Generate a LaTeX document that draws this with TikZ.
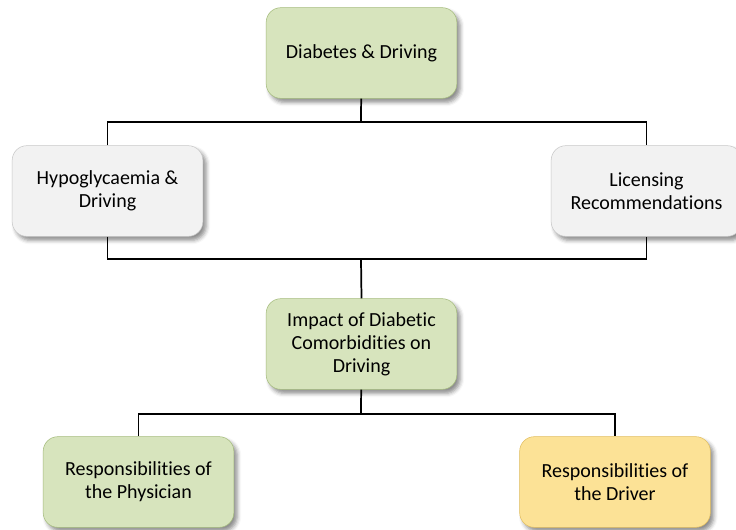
\documentclass[tikz,border=0pt]{standalone}
\usepackage{fontspec}
\setmainfont{Carlito}[Ligatures={NoCommon,NoRequired,NoContextual}]
\usetikzlibrary{shadows.blur}
\definecolor{leafFill}{RGB}{215,228,189}
\definecolor{leafLine}{RGB}{165,188,125}
\definecolor{greyFill}{RGB}{242,242,242}
\definecolor{greyLine}{RGB}{200,200,200}
\definecolor{sunFill}{RGB}{252,226,150}
\definecolor{sunLine}{RGB}{226,190,95}
\tikzset{
    topic/.style={draw, rounded corners=11pt, align=center,
        minimum width=143pt, minimum height=68pt, inner sep=2pt,
        font=\fontsize{15}{17.4}\selectfont,
        blur shadow={shadow xshift=2.5pt, shadow yshift=-3pt,
            shadow blur radius=3pt, shadow opacity=45}},
    green/.style={topic, fill=leafFill, draw=leafLine},
    grey/.style={topic, fill=greyFill, draw=greyLine},
    yellow/.style={topic, fill=sunFill, draw=sunLine},
    bus/.style={line width=1.3pt, black},
}
\begin{document}
\begin{tikzpicture}[x=0.75pt, y=-0.75pt]
    \useasboundingbox (0,0) rectangle (736,529);
    \coordinate (Bus1) at (361,122);
    \coordinate (Bus2) at (361,259);
    \coordinate (Bus3) at (361,414);
    % boxes
    \node[green]  (diab)   at (361.5,53)  {Diabetes \& Driving};
    \node[grey]   (hypo)   at (107.5,191) {Hypoglycaemia \&\\Driving};
    \node[grey]   (lic)    at (646.5,191) {Licensing\\Recommendations};
    \node[green]  (impact) at (361.5,344) {Impact of Diabetic\\Comorbidities on\\Driving};
    \node[green]  (phys)   at (138.5,482) {Responsibilities of\\the Physician};
    \node[yellow] (driver) at (615,482)   {Responsibilities of\\the Driver};
    % connectors
    \begin{scope}[bus]
        \draw (diab) -- (Bus1);
        \draw (hypo.north) |- (Bus1) -| (lic.north);
        \draw (hypo.south) |- (Bus2) -| (lic.south);
        \draw (Bus2) -- (impact.north);
        \draw (impact) -- (Bus3);
        \draw (phys.north) |- (Bus3) -| (driver.north);
    \end{scope}
\end{tikzpicture}
\end{document}
